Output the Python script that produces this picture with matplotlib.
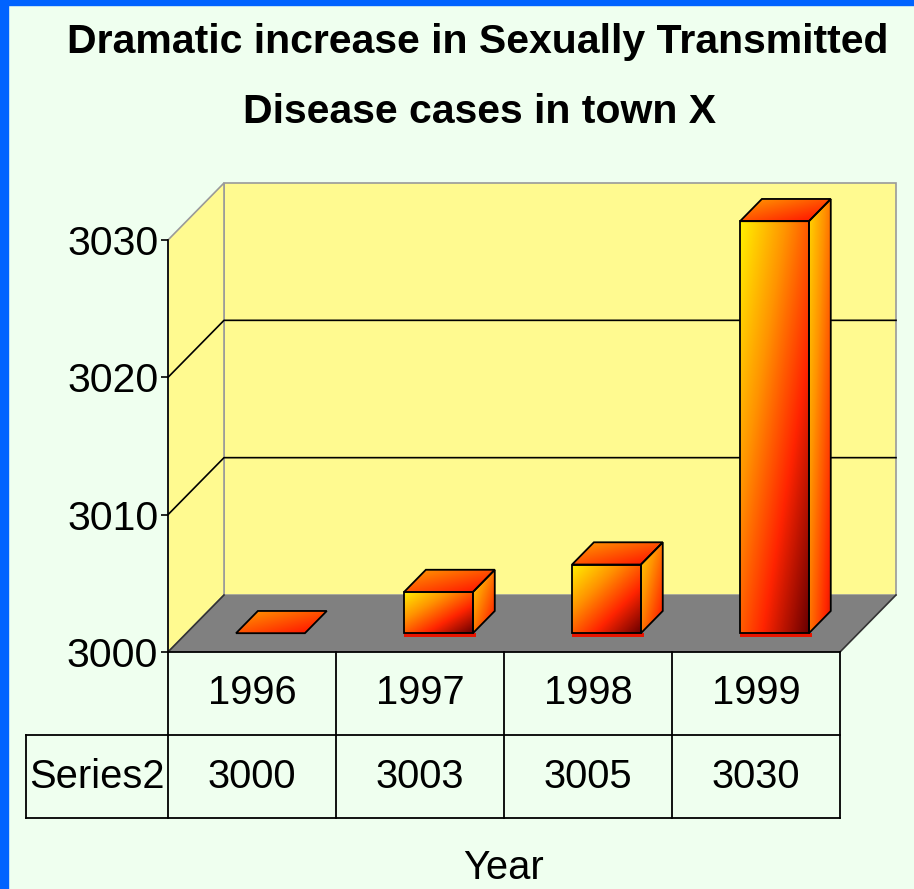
import numpy as np
import matplotlib
matplotlib.use("Agg")
import matplotlib.pyplot as plt
from matplotlib import font_manager as fm
from matplotlib.patches import Polygon, Rectangle
from matplotlib.colors import LinearSegmentedColormap

# --- data
years = ["1996", "1997", "1998", "1999"]
cases = [3000, 3003, 3005, 3030]
series_name = "Series2"
y_ticks = [3000, 3010, 3020, 3030]

# --- fonts: condensed look if the narrow face is there
installed = {f.name for f in fm.fontManager.ttflist}
if "Liberation Sans Narrow" in installed:
    FONT, k = "Liberation Sans Narrow", 1.0
else:
    FONT, k = "Liberation Sans", 0.82
plt.rcParams["font.family"] = [FONT, "DejaVu Sans"]

BG = "#EFFFEF"
WALL = "#FFFA90"
FLOOR = "#808080"
BLUE = "#0063FF"

W, H = 914, 889
fig = plt.figure(figsize=(W / 100, H / 100), dpi=100, facecolor=BG)


def fx(px):
    return px / W


def fy(py):
    return 1 - py / H


# front plane of the 3d box
ax = fig.add_axes([fx(168), fy(652), fx(840) - fx(168), fy(240) - fy(652)])
ax.patch.set_visible(False)

DX = 56 / 168          # depth offset in category units
DY = 57 / (412 / 30)   # depth offset in value units
z0, z1 = 0.33, 0.72    # bar depth
half = 0.205           # half bar width
ymin, ymax = y_ticks[0], y_ticks[-1]
ncat = len(years)


def proj(x, y, z):
    return (x + z * DX, y + z * DY)


# walls and floor
back = [proj(0, ymin, 1), proj(ncat, ymin, 1), proj(ncat, ymax, 1), proj(0, ymax, 1)]
side = [proj(0, ymin, 0), proj(0, ymin, 1), proj(0, ymax, 1), proj(0, ymax, 0)]
floor = [proj(0, ymin, 0), proj(ncat, ymin, 0), proj(ncat, ymin, 1), proj(0, ymin, 1)]
ax.add_patch(Polygon(back, closed=True, facecolor=WALL, edgecolor="#9a9a9a", lw=1.2, zorder=1, clip_on=False))
ax.add_patch(Polygon(side, closed=True, facecolor=WALL, edgecolor="#9a9a9a", lw=1.2, zorder=1, clip_on=False))
ax.add_patch(Polygon(floor, closed=True, facecolor=FLOOR, edgecolor="none", zorder=1.5, clip_on=False))

for t in y_ticks[1:-1]:
    p0, p1, p2 = proj(0, t, 0), proj(0, t, 1), proj(ncat, t, 1)
    ax.plot([p0[0], p1[0], p2[0]], [p0[1], p1[1], p2[1]], color="black", lw=1.2, zorder=1.2, clip_on=False)
p0, p1 = proj(0, ymin, 0), proj(0, ymin, 1)
ax.plot([p0[0], p1[0]], [p0[1], p1[1]], color="#333333", lw=1.2, zorder=1.6, clip_on=False)
p0, p1 = proj(ncat, ymin, 0), proj(ncat, ymin, 1)
ax.plot([p0[0], p1[0]], [p0[1], p1[1]], color="#333333", lw=1.2, zorder=1.6, clip_on=False)

# bars with a fire gradient
fire = LinearSegmentedColormap.from_list("fire", ["#FFF000", "#FF9400", "#FF2400", "#6A0000"])
n = 80
u = np.linspace(0, 1, n)
diag = (u[None, :] + u[:, None]) / 2


def shaded(verts, lo, hi, z):
    poly = Polygon(verts, closed=True, facecolor="none", edgecolor="black",
                   lw=1.3, zorder=z + 0.5, clip_on=False)
    ax.add_patch(poly)
    xs, ys = zip(*verts)
    im = ax.imshow(lo + (hi - lo) * diag, cmap=fire, vmin=0, vmax=1,
                   extent=(min(xs), max(xs), min(ys), max(ys)), origin="upper",
                   aspect="auto", interpolation="bilinear", zorder=z)
    im.set_clip_box(fig.bbox)
    im.set_clip_path(poly)


for i, v in enumerate(cases):
    c = i + 0.5
    xl, xr = c - half, c + half
    if v > ymin:
        # thin red rim under the front face
        a = proj(xl, ymin, z0)
        ax.add_patch(Rectangle((a[0], a[1] - 0.3), 2 * half + 0.02, 0.3, facecolor="#E81400",
                               edgecolor="none", zorder=2, clip_on=False))
        shaded([proj(xr, ymin, z0), proj(xr, v, z0), proj(xr, v, z1), proj(xr, ymin, z1)], 0.1, 0.75, 3)
        shaded([proj(xl, ymin, z0), proj(xr, ymin, z0), proj(xr, v, z0), proj(xl, v, z0)], 0.0, 1.0, 3)
    shaded([proj(xl, v, z0), proj(xr, v, z0), proj(xr, v, z1), proj(xl, v, z1)], 0.3, 0.75, 3)

ax.set_xlim(0, ncat)
ax.set_ylim(ymin, ymax)
ax.set_xticks([])
ax.set_yticks(y_ticks)
ax.set_yticklabels([str(t) for t in y_ticks])
for s in ["top", "right", "bottom"]:
    ax.spines[s].set_visible(False)
ax.spines["left"].set_linewidth(1.2)
ax.spines["left"].set_zorder(5)
ax.tick_params(axis="y", direction="out", length=5, width=1.2, pad=2, labelsize=36 * k)

# --- data table under the plot
tab = fig.add_axes([fx(26), fy(818), fx(840) - fx(26), fy(652) - fy(818)])
x_left = -(168 - 26) / 168
tab.set_xlim(x_left, ncat)
tab.set_ylim(2, 0)
tab.axis("off")
lk = dict(color="black", lw=1.3, clip_on=False)
tab.plot([0, ncat], [0, 0], **lk)
tab.plot([x_left, ncat], [1, 1], **lk)
tab.plot([x_left, ncat], [2, 2], **lk)
tab.plot([x_left, x_left], [1, 2], **lk)
for j in range(ncat + 1):
    tab.plot([j, j], [0, 2], **lk)
for i, (yr, v) in enumerate(zip(years, cases)):
    tab.text(i + 0.5, 0.5, yr, ha="center", va="center", fontsize=35 * k)
    tab.text(i + 0.5, 1.5, str(v), ha="center", va="center", fontsize=35 * k)
tab.text(x_left / 2, 1.5, series_name, ha="center", va="center", fontsize=35 * k)

# --- titles
fig.text(fx(478), fy(42), "Dramatic increase in Sexually Transmitted", ha="center", va="center",
         fontsize=36 * k, weight="bold")
fig.text(fx(480), fy(112), "Disease cases in town X", ha="center", va="center",
         fontsize=36 * k, weight="bold")
fig.text(fx(504), fy(887), "Year", ha="center", va="bottom", fontsize=35 * k)

# blue slide border
fig.add_artist(Rectangle((0, 0), fx(8), 1, transform=fig.transFigure, color=BLUE, zorder=10))
fig.add_artist(Rectangle((0, fy(5)), 1, 5 / H, transform=fig.transFigure, color=BLUE, zorder=10))

fig.savefig("out.png", dpi=100, facecolor=BG)
